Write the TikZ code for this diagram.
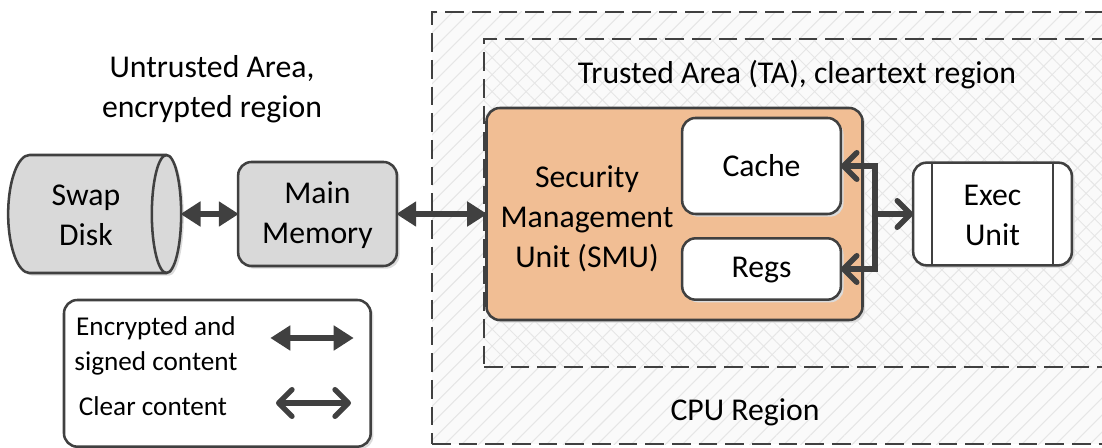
\documentclass[tikz,border=0pt]{standalone}
\usepackage{fontspec}
\setmainfont{Carlito}
\usetikzlibrary{positioning,shadows,patterns.meta,arrows.meta}
\definecolor{linecolor}{RGB}{64,64,64}
\definecolor{smucolor}{RGB}{241,190,148}
\definecolor{diskcolor}{RGB}{217,217,217}
\definecolor{hatchcolor}{RGB}{230,230,230}
\definecolor{regioncolor}{RGB}{250,250,250}

\begin{document}
\begin{tikzpicture}[%
    x=0.75pt, y=-0.75pt,
    node distance=42.75pt,
    font=\fontsize{23.8}{30}\selectfont,
    ]
\tikzset{
  base/.style={draw=linecolor, line width=1.9pt, outer sep=0pt, inner sep=0pt, align=center},
  shade/.style={drop shadow={shadow xshift=2pt, shadow yshift=-2pt, fill=black!14, opacity=1}},
  box/.style={base, rectangle, rounded corners=10pt, shade},
  grey/.style={box, fill=diskcolor, minimum width=119pt, minimum height=78pt},
  white/.style={box, fill=white},
  region/.style={draw=linecolor, line width=1.9pt, outer sep=0pt, dash pattern=on 14pt off 6pt, rectangle, preaction={fill=regioncolor}},
  legend/.style={font=\fontsize{20.4}{26}\selectfont, align=center},
  crypt/.style={draw=linecolor, line width=4pt, {Stealth[length=15pt,width=18pt,inset=0pt]}-{Stealth[length=15pt,width=18pt,inset=0pt]}, shorten >=-0.5pt, shorten <=-0.5pt},
  clear/.style={draw=linecolor, line width=4pt, line cap=round, line join=miter},
  barb/.style={{Straight Barb[length=10pt,width=20pt,round]}-{Straight Barb[length=10pt,width=20pt,round]}},
  barbend/.style={-{Straight Barb[length=10pt,width=20pt,round]}},
}

\clip (0,0) rectangle (1102,448);

% regions
\node [region, minimum width=510pt, minimum height=324pt, anchor=north west, preaction={pattern={Lines[angle=45,distance=9pt,line width=0.8pt]}, pattern color=hatchcolor}] (cpu) at (432,12) {};
\node [region, minimum width=472pt, minimum height=246pt, anchor=north west, preaction={pattern={Lines[angle=45,distance=9pt,line width=0.7pt]}, pattern color=hatchcolor}, preaction={pattern={Lines[angle=-45,distance=9pt,line width=0.7pt]}, pattern color=hatchcolor}] (ta) at (484,39) {};

\node (tcpu) at (745,412) {CPU Region};
\node (tta) at (797,75) {Trusted Area (TA), cleartext region};
\node [align=center] (tun) at (212,89) {Untrusted Area,\\encrypted region};

% boxes
\node [grey] (main) at (317.5,214) {};
\node [align=center] (tmain) at (317.5,215) {Main\\Memory};
\node [outer sep=0pt, minimum width=129.75pt, minimum height=88.5pt, left=42.75pt of main] (swap) {};
\draw [base, fill=diskcolor, shade] ([xshift=16pt]swap.north west) -- ([xshift=-11pt]swap.north east)
    arc [start angle=90, end angle=-90, x radius=11pt, y radius=44.25pt]
    -- ([xshift=16pt]swap.south west)
    arc [start angle=270, end angle=90, x radius=16pt, y radius=44.25pt] -- cycle;
\draw [base] ([xshift=-11pt]swap.north east) arc [start angle=90, end angle=270, x radius=11pt, y radius=44.25pt];
\node [align=center] (tswap) at (86,215) {Swap\\Disk};

\node [box, fill=smucolor, minimum width=282pt, minimum height=159pt] (smu) at (674.5,214) {};
\node [align=center] (tsmu) at (587,219) {Security\\Management\\Unit (SMU)};
\node [white, minimum width=119pt, minimum height=72pt] (cache) at (761.5,166) {};
\node [align=center] (tcache) at (761.5,166) {Cache};
\node [white, minimum width=119pt, minimum height=46pt] (regs) at (761.5,269) {};
\node [align=center] (tregs) at (761.5,270) {Regs};
\node [white, minimum width=119pt, minimum height=77pt, right=38pt of smu] (exec) {};
\node [align=center, yshift=-0.8pt] (texec) at (exec) {Exec\\Unit};
\draw [base] ([xshift=14pt]exec.north west) -- ([xshift=14pt]exec.south west);
\draw [base] ([xshift=-14pt]exec.north east) -- ([xshift=-14pt]exec.south east);

% legend
\node [white, minimum width=230pt, minimum height=110pt, anchor=north west] (leg) at (64,300) {};
\node [legend] (tenc) at (156,346) {Encrypted and\\signed content};
\node [legend] (tclr) at (153,406) {Clear content};
\coordinate (e1) at (271,338);
\coordinate (e2) at (353,338);
\coordinate (c1) at (276,403);
\coordinate (c2) at (351,403);
\coordinate (bus) at (875,214);

%connect
\draw [crypt] (swap.east) -- (main.west);
\draw [crypt] (main.east) -- (smu.west);
\draw [crypt] (e1) -- (e2);
\draw [clear, barb] (c1) -- (c2);
\draw [clear, barb] (cache.east) -| (bus) |- (regs.east);
\draw [clear, barbend] (bus) -- (exec.west);

\end{tikzpicture}
\end{document}
